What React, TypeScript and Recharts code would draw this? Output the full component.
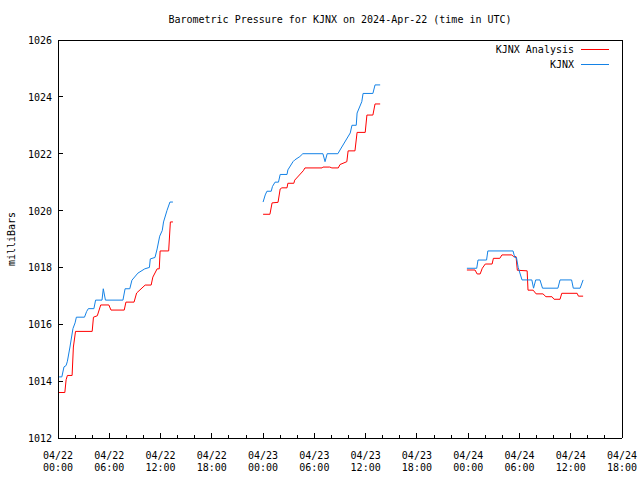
import { LineChart, Line, XAxis, YAxis, Legend } from 'recharts'

// hours since 2024-04-22 00:00 UTC, pressure in mbar
const analysisApr22: [number, number][] = [
  [0.1, 1013.6], [0.8, 1013.6], [0.95, 1014.05], [1.1, 1014.2], [1.65, 1014.2],
  [1.8, 1015.2], [2.05, 1015.75], [4.0, 1015.75], [4.15, 1016.25], [4.6, 1016.3],
  [5.0, 1016.68], [5.95, 1016.68], [6.2, 1016.5], [7.75, 1016.5], [7.95, 1016.78],
  [8.9, 1016.78], [9.2, 1017.1], [10.2, 1017.38], [10.9, 1017.38], [11.1, 1017.66],
  [11.6, 1017.95], [11.85, 1017.95], [11.95, 1018.58], [12.95, 1018.58], [13.15, 1019.6],
  [13.45, 1019.6],
]
const analysisApr23: [number, number][] = [
  [24.0, 1019.87], [24.8, 1019.87], [25.05, 1020.27], [25.75, 1020.29], [26.0, 1020.76],
  [26.2, 1020.8], [26.8, 1020.8], [26.9, 1020.96], [27.6, 1020.96], [27.7, 1021.07],
  [28.7, 1021.4], [28.9, 1021.5], [30.9, 1021.5], [31.0, 1021.53], [31.8, 1021.53],
  [32.05, 1021.5], [32.8, 1021.5], [33.0, 1021.62], [33.8, 1021.72], [33.95, 1022.1],
  [34.75, 1022.1], [35.0, 1022.75], [35.95, 1022.75], [36.15, 1023.36], [36.85, 1023.36],
  [37.1, 1023.75], [37.7, 1023.75],
]
const analysisApr24: [number, number][] = [
  [47.85, 1017.91], [48.8, 1017.91], [49.05, 1017.77], [49.4, 1017.77], [49.65, 1017.97],
  [50.0, 1018.12], [50.8, 1018.12], [50.95, 1018.32], [51.7, 1018.32], [51.95, 1018.44],
  [53.1, 1018.44], [53.3, 1018.38], [53.6, 1018.38], [53.75, 1017.9], [54.9, 1017.88],
  [55.0, 1017.2], [55.6, 1017.2], [55.95, 1017.07], [56.75, 1017.07], [57.1, 1016.97],
  [57.8, 1016.97], [58.05, 1016.88], [58.75, 1016.88], [58.95, 1017.09], [60.75, 1017.09],
  [60.9, 1016.99], [61.45, 1016.99],
]

const kjnxApr22: [number, number][] = [
  [0.1, 1014.15], [0.45, 1014.15], [0.7, 1014.5], [0.95, 1014.55], [1.1, 1014.7],
  [1.4, 1015.2], [1.75, 1015.85], [2.0, 1016.05], [2.15, 1016.25], [3.1, 1016.25],
  [3.35, 1016.45], [3.55, 1016.55], [4.2, 1016.55], [4.4, 1016.85], [5.15, 1016.85],
  [5.3, 1017.25], [5.55, 1016.85], [7.6, 1016.85], [7.85, 1017.25], [8.4, 1017.25],
  [8.65, 1017.55], [9.35, 1017.8], [10.15, 1017.95], [10.7, 1018.0], [10.8, 1018.3],
  [11.35, 1018.35], [11.6, 1018.65], [11.9, 1019.1], [12.2, 1019.3], [12.35, 1019.6],
  [12.75, 1020.0], [13.1, 1020.3], [13.45, 1020.3],
]
const kjnxApr23: [number, number][] = [
  [24.0, 1020.3], [24.25, 1020.55], [24.45, 1020.68], [24.95, 1020.68], [25.1, 1020.85],
  [25.4, 1021.0], [25.8, 1021.0], [26.0, 1021.27], [26.8, 1021.27], [26.9, 1021.43],
  [27.5, 1021.72], [27.7, 1021.78], [28.3, 1021.9], [28.65, 1022.0], [31.0, 1022.0],
  [31.25, 1021.72], [31.5, 1022.0], [32.75, 1022.0], [33.0, 1022.13], [34.2, 1022.73],
  [34.4, 1023.0], [34.9, 1023.0], [35.0, 1023.43], [35.55, 1023.83], [35.7, 1024.12],
  [36.85, 1024.12], [37.1, 1024.42], [37.7, 1024.42],
]
const kjnxApr24: [number, number][] = [
  [47.85, 1017.97], [49.0, 1017.97], [49.15, 1018.26], [50.15, 1018.26], [50.3, 1018.58],
  [53.25, 1018.58], [53.45, 1018.35], [53.65, 1018.35], [53.85, 1018.0], [54.3, 1017.56],
  [55.45, 1017.56], [55.65, 1017.27], [55.9, 1017.56], [56.4, 1017.56], [56.7, 1017.27],
  [58.5, 1017.27], [58.75, 1017.56], [60.1, 1017.56], [60.3, 1017.27], [61.1, 1017.27],
  [61.45, 1017.56],
]

const hourTicks = [0, 2, 4, 6, 8, 10, 12, 14, 16, 18, 20, 22, 24, 26, 28, 30, 32, 34,
  36, 38, 40, 42, 44, 46, 48, 50, 52, 54, 56, 58, 60, 62, 64, 66]
const pressureTicks = [1012, 1014, 1016, 1018, 1020, 1022, 1024, 1026]

const FONT = '"DejaVu Sans Mono", monospace'
const RED = '#ff0000'
const BLUE = '#1482e6'

// join the day segments, with a null between them so the line breaks
const toRows = (segs: [number, number][][]) =>
  segs.flatMap((seg, i) => {
    const rows = seg.map(([t, p]) => ({ t, p: p as number | null }))
    if (i === 0) return rows
    const prevEnd = segs[i - 1][segs[i - 1].length - 1][0]
    return [{ t: (prevEnd + seg[0][0]) / 2, p: null }, ...rows]
  })

const analysisRows = toRows([analysisApr22, analysisApr23, analysisApr24])
const kjnxRows = toRows([kjnxApr22, kjnxApr23, kjnxApr24])

const series = [
  { name: 'KJNX Analysis', color: RED },
  { name: 'KJNX', color: BLUE },
]

const BottomTick = ({ x, y, payload }: any) => {
  const t = payload.value as number
  const major = t % 6 === 0
  const day = 22 + Math.floor(t / 24)
  const hh = String(t % 24).padStart(2, '0')
  return (
    <g>
      <line x1={x} y1={y} x2={x} y2={y - (major ? 5 : 3)} stroke="#000" shapeRendering="crispEdges" />
      {major && (
        <text x={x} y={y} textAnchor="middle" fontFamily={FONT} fontSize={10} fill="#000">
          <tspan x={x} dy={21}>04/{day}</tspan>
          <tspan x={x} dy={12}>{hh}:00</tspan>
        </text>
      )}
    </g>
  )
}

const TopTick = ({ x, y, payload }: any) => {
  const major = (payload.value as number) % 6 === 0
  return <line x1={x} y1={y} x2={x} y2={y + (major ? 5 : 3)} stroke="#000" shapeRendering="crispEdges" />
}

const LeftTick = ({ x, y, payload }: any) => (
  <g>
    <line x1={x} y1={y} x2={x + 5} y2={y} stroke="#000" shapeRendering="crispEdges" />
    <text x={x - 6} y={y} dy={4} textAnchor="end" fontFamily={FONT} fontSize={10} fill="#000">
      {payload.value}
    </text>
  </g>
)

const RightTick = ({ x, y }: any) => (
  <line x1={x} y1={y} x2={x - 5} y2={y} stroke="#000" shapeRendering="crispEdges" />
)

const LegendBox = () => (
  <div style={{ fontFamily: FONT, fontSize: 10, lineHeight: '15px', color: '#000' }}>
    {series.map((s) => (
      <div key={s.name} style={{ display: 'flex', alignItems: 'center', justifyContent: 'flex-end' }}>
        <span>{s.name}</span>
        <span style={{ display: 'inline-block', width: 28, borderTop: `1px solid ${s.color}`, marginLeft: 7 }} />
      </div>
    ))}
  </div>
)

const axisLine = { stroke: '#000', shapeRendering: 'crispEdges' }

export default function App() {
  return (
    <div style={{ position: 'absolute', left: 0, top: 0, width: 640, height: 480, background: '#fff' }}>
      <LineChart width={640} height={480} margin={{ top: 39, right: 17, bottom: 0, left: 0 }}>
        <XAxis
          dataKey="t"
          type="number"
          domain={[0, 66]}
          ticks={hourTicks}
          interval={0}
          height={42}
          tickSize={0}
          tickMargin={0}
          tickLine={false}
          axisLine={axisLine}
          tick={<BottomTick />}
          allowDataOverflow
        />
        <XAxis
          xAxisId="top"
          orientation="top"
          type="number"
          domain={[0, 66]}
          ticks={hourTicks}
          interval={0}
          height={1}
          tickSize={0}
          tickMargin={0}
          tickLine={false}
          axisLine={axisLine}
          tick={<TopTick />}
          label={{
            content: ({ viewBox }: any) => (
              <text
                x={viewBox.x + viewBox.width / 2}
                y={viewBox.y + viewBox.height - 17}
                textAnchor="middle"
                fontFamily={FONT}
                fontSize={10}
                fill="#000"
              >
                Barometric Pressure for KJNX on 2024-Apr-22 (time in UTC)
              </text>
            ),
          }}
        />
        <YAxis
          type="number"
          domain={[1012, 1026]}
          ticks={pressureTicks}
          interval={0}
          width={58}
          tickSize={0}
          tickMargin={0}
          tickLine={false}
          axisLine={axisLine}
          tick={<LeftTick />}
          allowDataOverflow
          label={{
            content: ({ viewBox }: any) => {
              const lx = viewBox.x + 15
              const ly = viewBox.y + viewBox.height / 2
              return (
                <text
                  x={lx}
                  y={ly}
                  transform={`rotate(-90 ${lx} ${ly})`}
                  textAnchor="middle"
                  fontFamily={FONT}
                  fontSize={10}
                  fill="#000"
                >
                  milliBars
                </text>
              )
            },
          }}
        />
        <YAxis
          yAxisId="right"
          orientation="right"
          type="number"
          domain={[1012, 1026]}
          ticks={pressureTicks}
          interval={0}
          width={1}
          tickSize={0}
          tickMargin={0}
          tickLine={false}
          axisLine={axisLine}
          tick={<RightTick />}
        />
        <Legend
          layout="vertical"
          align="center"
          verticalAlign="middle"
          content={() => <LegendBox />}
          wrapperStyle={{ top: 42, left: 'auto', right: 31, width: 'auto', height: 'auto' }}
        />
        <Line
          data={analysisRows}
          dataKey="p"
          name="KJNX Analysis"
          type="linear"
          stroke={RED}
          strokeWidth={1}
          dot={false}
          activeDot={false}
          isAnimationActive={false}
        />
        <Line
          data={kjnxRows}
          dataKey="p"
          name="KJNX"
          type="linear"
          stroke={BLUE}
          strokeWidth={1}
          dot={false}
          activeDot={false}
          isAnimationActive={false}
        />
      </LineChart>
    </div>
  )
}
